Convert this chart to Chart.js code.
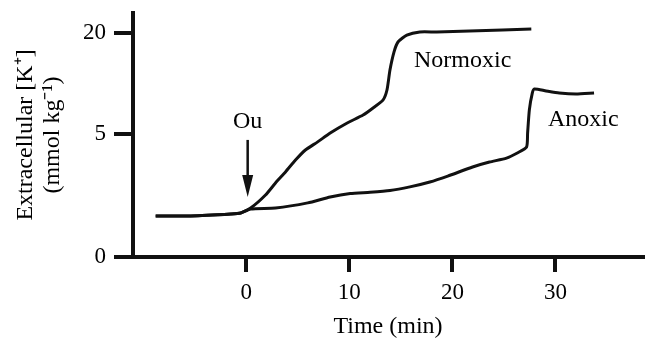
<!DOCTYPE html>
<html>
<head>
<meta charset="utf-8">
<title>Extracellular K+ - Normoxic vs Anoxic</title>
<script src="https://cdn.jsdelivr.net/npm/chart.js@4.4.1/dist/chart.umd.min.js"></script>
<style>
    html, body { margin: 0; padding: 0; background: #fff; }
    #wrap { width: 645px; height: 343px; position: relative; }
</style>
</head>
<body>
<div id="wrap"><canvas id="chart"></canvas></div>
<script>
// Time in minutes, Ou applied at t = 0
const normoxicTime = [-8.8, -5.4, -1.5, -0.55, 0.42, 1.86, 2.83, 3.8, 4.77, 5.73, 6.89, 8.14, 9.79, 11.33, 12.3, 13.26, 13.65, 13.94, 14.33, 14.72, 15.58, 16.84, 18.48, 21.67, 24.86, 27.66];
// The y axis is compressed above 5, so values are in axis units (0 -> 0, 5 -> 5, 20 -> 9.1)
const normoxicK = [1.67, 1.67, 1.75, 1.79, 1.99, 2.52, 3.01, 3.46, 3.94, 4.35, 4.67, 5.04, 5.45, 5.77, 6.06, 6.38, 6.79, 7.6, 8.33, 8.74, 9.02, 9.15, 9.15, 9.19, 9.23, 9.27];

const anoxicTime = [-8.8, -5.4, -1.5, -0.55, 0.42, 2.83, 5.96, 8.14, 10.08, 12.01, 13.94, 15.87, 17.81, 19.55, 21.96, 23.6, 25.25, 26.3, 27.2, 27.3, 27.47, 27.76, 27.95, 29.1, 30.37, 32.0, 33.75];
const anoxicK = [1.67, 1.67, 1.75, 1.79, 1.95, 1.99, 2.2, 2.44, 2.58, 2.63, 2.7, 2.85, 3.05, 3.29, 3.66, 3.86, 4.02, 4.23, 4.47, 5.04, 5.98, 6.67, 6.83, 6.75, 6.67, 6.63, 6.67];

const yTickPos = [0, 5, 9.1];
const yTickLabels = ['0', '5', '20'];
const xTicks = [0, 10, 20, 30];

// Text labels and the Ou arrow, in data units
const labels = [
    { text: 'Normoxic', x: 21.0, y: 7.97 },
    { text: 'Anoxic', x: 32.7, y: 5.57 },
    { text: 'Ou', x: 0.13, y: 5.5 }
];
const arrow = { x: 0.13, from: 4.76, to: 2.44 };

const ink = '#111';
const textColor = '#000';
const family = "'Liberation Serif', 'Times New Roman', serif";

const annotations = {
    id: 'annotations',
    afterDatasetsDraw(chart) {
        const { ctx, scales: { x, y } } = chart;
        ctx.save();
        ctx.fillStyle = textColor;
        ctx.font = `24px ${family}`;
        ctx.textAlign = 'center';
        ctx.textBaseline = 'middle';
        labels.forEach(l => {
            ctx.fillText(l.text, x.getPixelForValue(l.x), y.getPixelForValue(l.y));
        });

        const ax = x.getPixelForValue(arrow.x);
        const top = y.getPixelForValue(arrow.from);
        const tip = y.getPixelForValue(arrow.to);
        ctx.strokeStyle = ink;
        ctx.fillStyle = ink;
        ctx.lineWidth = 2.5;
        ctx.beginPath();
        ctx.moveTo(ax, top);
        ctx.lineTo(ax, tip - 18);
        ctx.stroke();
        ctx.beginPath();
        ctx.moveTo(ax, tip);
        ctx.lineTo(ax - 5.5, tip - 22);
        ctx.lineTo(ax + 5.5, tip - 22);
        ctx.closePath();
        ctx.fill();
        ctx.restore();
    }
};

function toPoints(xs, ys) {
    return xs.map((t, i) => ({ x: t, y: ys[i] }));
}

new Chart(document.getElementById('chart'), {
    type: 'line',
    data: {
        datasets: [
            { label: 'Normoxic', data: toPoints(normoxicTime, normoxicK) },
            { label: 'Anoxic', data: toPoints(anoxicTime, anoxicK) }
        ]
    },
    options: {
        responsive: true,
        maintainAspectRatio: false,
        animation: false,
        layout: { padding: { top: 13, right: 2, left: 0, bottom: 0 } },
        plugins: {
            legend: { display: false },
            tooltip: { enabled: false }
        },
        elements: {
            point: { radius: 0 },
            line: { borderWidth: 3, borderColor: ink, tension: 0.2, fill: false }
        },
        scales: {
            x: {
                type: 'linear',
                min: -11,
                max: 38.5,
                afterBuildTicks: s => { s.ticks = xTicks.map(v => ({ value: v })); },
                afterFit: s => {
                    s.height = 86;
                    s.paddingLeft = 0;
                    s.paddingRight = 0;
                },
                border: { color: ink, width: 4 },
                grid: { drawOnChartArea: false, color: ink, lineWidth: 4, tickLength: 15 },
                ticks: { color: textColor, font: { family, size: 23 }, padding: 7, maxRotation: 0 },
                title: {
                    display: true,
                    text: 'Time (min)',
                    color: textColor,
                    font: { family, size: 24, lineHeight: 1.12 },
                    padding: { top: 0, bottom: 3 }
                }
            },
            y: {
                type: 'linear',
                min: 0,
                max: 9.92,
                afterBuildTicks: s => { s.ticks = yTickPos.map(v => ({ value: v })); },
                afterFit: s => {
                    s.width = 133;
                    s.paddingTop = 0;
                    s.paddingBottom = 0;
                },
                border: { color: ink, width: 4 },
                grid: { drawOnChartArea: false, color: ink, lineWidth: 4, tickLength: 19 },
                ticks: {
                    color: textColor,
                    font: { family, size: 23 },
                    padding: 8,
                    callback: (v, i) => yTickLabels[i]
                },
                title: {
                    display: true,
                    text: ['Extracellular [K\u207A]', '(mmol kg\u207B\u00B9)'],
                    color: textColor,
                    font: { family, size: 24, lineHeight: 1.12 },
                    padding: { top: 12, bottom: 0 }
                }
            }
        }
    },
    plugins: [annotations]
});
</script>
</body>
</html>
